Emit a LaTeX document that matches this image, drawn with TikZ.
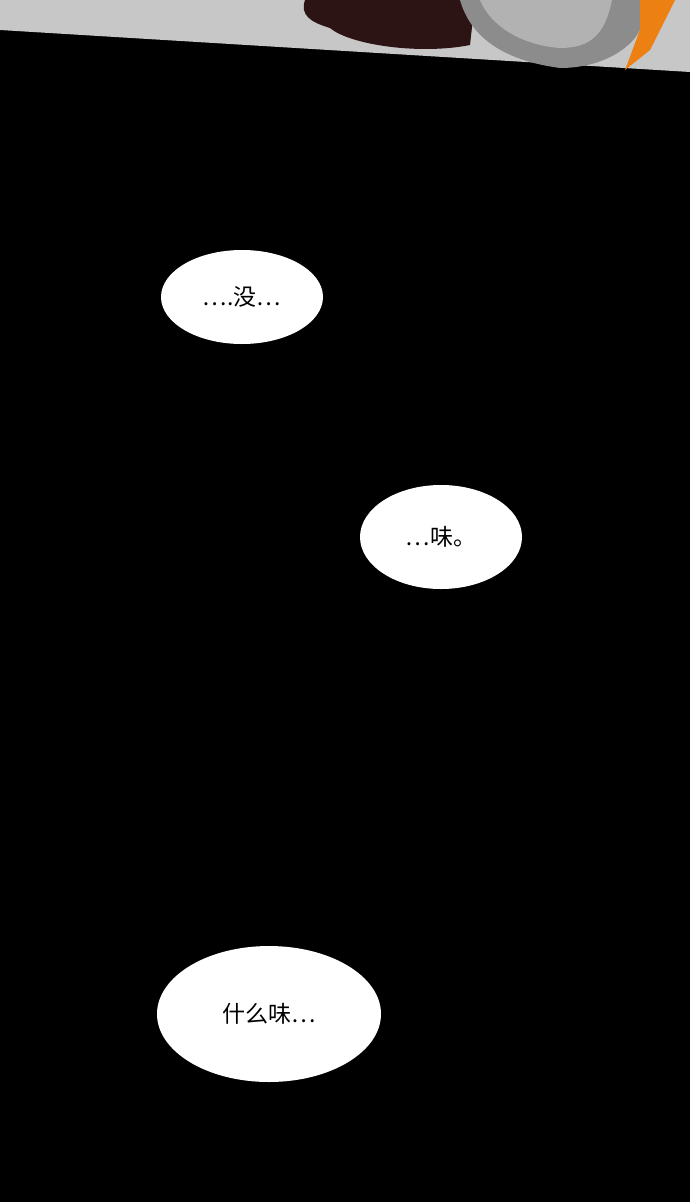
\documentclass[tikz,border=0pt]{standalone}
\usepackage{fontspec}
\newfontfamily\cjk{Noto Sans CJK SC}
\begin{document}
\begin{tikzpicture}[x=1pt,y=-1pt,
  bubble/.style={ellipse,fill=white,draw=none,inner sep=0pt,font=\cjk\fontsize{23}{26}\selectfont}]
\usetikzlibrary{shapes.geometric}
\fill[black] (0,0) rectangle (690,1202);
\useasboundingbox (0,0) rectangle (690,1202);
% top floor
\fill[gray!40!white!90!black, fill=black!22] (0,0) -- (690,0) -- (690,72) -- (0,30) -- cycle;
% stain
\fill[black!75!red!40!black, fill={rgb,255:red,45;green,20;blue,20}] (305,0) .. controls (300,15) and (310,22) .. (330,28) .. controls (350,45) and (420,55) .. (470,45) -- (475,0) -- cycle;
% can
\fill[black!45] (460,0) .. controls (470,35) and (500,60) .. (560,68) .. controls (600,68) and (630,50) .. (640,30) -- (640,0) -- cycle;
\fill[black!30] (480,0) .. controls (490,25) and (520,45) .. (560,48) .. controls (590,48) and (605,35) .. (612,0) -- cycle;
\fill[orange!70!brown] (640,0) -- (675,0) -- (650,50) -- (625,70) -- (640,30) -- cycle;
\node[bubble,minimum width=162,minimum height=94] (b1) at (242,297) {….没…};
\node[bubble,minimum width=162,minimum height=104] (b2) at (441,537) {…味。};
\node[bubble,minimum width=224,minimum height=136] (b3) at (269,1014) {什么味…};
\end{tikzpicture}
\end{document}
